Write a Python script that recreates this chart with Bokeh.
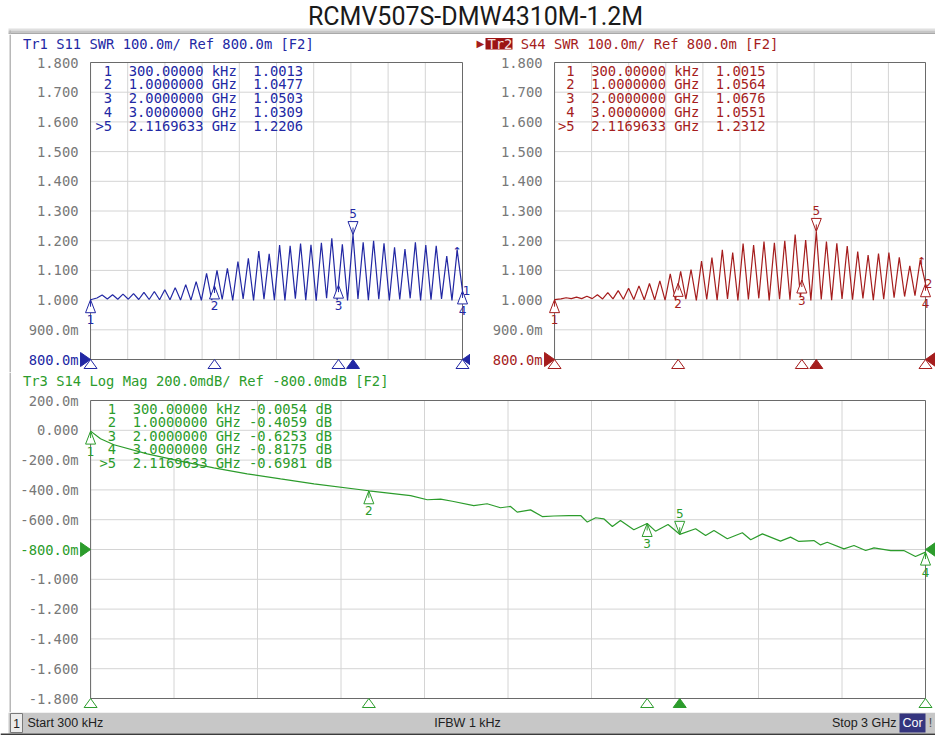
from bokeh.plotting import figure
from bokeh.models import Range1d
from bokeh.layouts import column, row
from bokeh.embed import file_html
from bokeh.resources import INLINE
from bokeh.core.properties import value

# ---------------- data ----------------
TITLE = "RCMV507S-DMW4310M-1.2M"
HDR1 = "Tr1 S11 SWR 100.0m/ Ref 800.0m [F2]"
HDR2_TAG = "Tr2"
HDR2 = "S44 SWR 100.0m/ Ref 800.0m [F2]"
HDR3 = "Tr3 S14 Log Mag 200.0mdB/ Ref -800.0mdB [F2]"
STATUS_L = "Start 300 kHz"
STATUS_C = "IFBW 1 kHz"
STATUS_R = "Stop 3 GHz"

f_start = 0.0003
f_stop = 3.0
grid_f = [0.0003, 0.3, 0.6, 0.9, 1.2, 1.5, 1.8, 2.1, 2.4, 2.7, 3.0]

swr_ticks = [0.8, 0.9, 1.0, 1.1, 1.2, 1.3, 1.4, 1.5, 1.6, 1.7, 1.8]
swr_labels = ["800.0m", "900.0m", "1.000", "1.100", "1.200", "1.300",
              "1.400", "1.500", "1.600", "1.700", "1.800"]
swr_ref = 0.8
lm_ticks = [-1.8, -1.6, -1.4, -1.2, -1.0, -0.8, -0.6, -0.4, -0.2, 0.0, 0.2]
lm_labels = ["-1.800", "-1.600", "-1.400", "-1.200", "-1.000", "-800.0m",
             "-600.0m", "-400.0m", "-200.0m", "0.000", "200.0m"]
lm_ref = -0.8

mk_id = ["1", "2", "3", "4", ">5"]
mk_f = [0.0003, 1.0, 2.0, 3.0, 2.1169633]
mk_s11 = [1.0013, 1.0477, 1.0503, 1.0309, 1.2206]
mk_s44 = [1.0015, 1.0564, 1.0676, 1.0551, 1.2312]
mk_s14 = [-0.0054, -0.4059, -0.6253, -0.8175, -0.6981]
active = 4

# SWR traces: vertices (start, valley, peak, valley, peak, ..., stop)
swr_f = [0.0003, 0.052, 0.094, 0.136, 0.178, 0.220, 0.262, 0.305, 0.347, 0.389,
         0.431, 0.473, 0.515, 0.557, 0.599, 0.641, 0.683, 0.726, 0.768, 0.810,
         0.852, 0.894, 0.936, 0.978, 1.020, 1.062, 1.104, 1.147, 1.189, 1.231,
         1.273, 1.315, 1.357, 1.399, 1.441, 1.483, 1.525, 1.568, 1.610, 1.652,
         1.694, 1.736, 1.778, 1.820, 1.862, 1.904, 1.946, 1.989, 2.031, 2.073,
         2.117, 2.157, 2.199, 2.241, 2.283, 2.325, 2.367, 2.410, 2.452, 2.494,
         2.536, 2.578, 2.620, 2.662, 2.704, 2.746, 2.788, 2.831, 2.873, 2.915,
         2.957, 3.0]
s11_v = [1.0013, 1.007, 1.017, 1.004, 1.018, 1.003, 1.020, 1.003, 1.022, 1.002,
         1.026, 1.002, 1.029, 1.001, 1.035, 1.001, 1.042, 1.000, 1.052, 1.000,
         1.062, 0.999, 1.090, 1.000, 1.100, 1.002, 1.107, 0.999, 1.130, 1.004,
         1.141, 0.999, 1.165, 1.003, 1.156, 1.000, 1.185, 0.999, 1.183, 1.005,
         1.190, 1.000, 1.186, 0.998, 1.193, 1.006, 1.208, 1.000, 1.188, 0.999,
         1.2206, 1.004, 1.195, 1.000, 1.200, 1.003, 1.191, 0.999, 1.178, 1.002,
         1.172, 1.006, 1.195, 0.999, 1.185, 1.001, 1.183, 1.004, 1.148, 0.999,
         1.168, 1.0309]
s44_v = [1.0015, 1.004, 1.008, 1.005, 1.010, 1.005, 1.013, 1.005, 1.018, 1.004,
         1.025, 1.004, 1.032, 1.003, 1.040, 1.002, 1.048, 1.001, 1.056, 1.001,
         1.065, 1.000, 1.088, 1.000, 1.097, 1.003, 1.103, 0.999, 1.131, 1.002,
         1.143, 1.000, 1.169, 1.004, 1.160, 0.999, 1.190, 1.002, 1.185, 1.006,
         1.197, 0.999, 1.193, 1.003, 1.200, 1.001, 1.221, 1.010, 1.202, 0.999,
         1.2312, 1.002, 1.197, 1.000, 1.191, 1.004, 1.182, 1.001, 1.163, 1.006,
         1.152, 1.000, 1.157, 1.003, 1.160, 1.008, 1.144, 1.012, 1.115, 1.015,
         1.135, 1.0551]

s14_f = [0.0003, 0.036, 0.084, 0.204, 0.323, 0.443, 0.563, 0.683, 0.803, 1.0,
         1.15, 1.21, 1.258, 1.30, 1.377, 1.425, 1.473, 1.509, 1.533, 1.581,
         1.623, 1.665, 1.719, 1.761, 1.785, 1.815, 1.844, 1.875, 1.904, 1.952,
         2.0, 2.030, 2.075, 2.117, 2.174, 2.210, 2.240, 2.288, 2.342, 2.372,
         2.414, 2.479, 2.515, 2.545, 2.599, 2.623, 2.647, 2.707, 2.743, 2.785,
         2.815, 2.875, 2.922, 2.964, 3.0]
s14_v = [-0.0054, -0.057, -0.097, -0.158, -0.207, -0.252, -0.292, -0.326, -0.359, -0.4059,
         -0.438, -0.466, -0.462, -0.476, -0.505, -0.493, -0.520, -0.511, -0.549, -0.534,
         -0.579, -0.575, -0.572, -0.572, -0.616, -0.587, -0.594, -0.646, -0.605, -0.668,
         -0.6253, -0.677, -0.632, -0.6981, -0.661, -0.706, -0.672, -0.728, -0.688, -0.735,
         -0.695, -0.744, -0.717, -0.746, -0.740, -0.769, -0.751, -0.796, -0.773, -0.807,
         -0.789, -0.807, -0.807, -0.847, -0.8175]

# ---------------- style ----------------
C1 = "#2228a4"
C2 = "#a51d1d"
C3 = "#2c9c2c"
GRID_C = "#d4d4d4"
FRAME_C = "#6a6a6a"
TICK_C = "#787878"
MONO = "DejaVu Sans Mono"
FS = "13.8px"
NUMF = "DejaVu Sans"
NB = "\u00a0"


def nb(s):
    return s.replace(" ", NB)


def panel(px0, ppx, py0, v0, ppy, fl, fr, ft, fb):
    return dict(px0=px0, ppx=ppx, py0=py0, v0=v0, ppy=ppy, fl=fl, fr=fr, ft=ft, fb=fb)


def X(P, px):
    return (px - P["px0"]) / P["ppx"]


def Y(P, py):
    return P["v0"] + (P["py0"] - py) / P["ppy"]


# pixel geometry of each panel (grid origin / scale / figure edges)
P1 = panel(90, 124.0, 62, 1.8, 297.0, 0, 470, 34, 372)
P2 = panel(554, 371.0 / 3, 62, 1.8, 297.0, 470, 935, 34, 372)
P3 = panel(90, 835.0 / 3, 400, 0.2, 149.0, 0, 935, 372, 712)


def make_fig(P):
    p = figure(width=P["fr"] - P["fl"], height=P["fb"] - P["ft"],
               x_range=Range1d(X(P, P["fl"]), X(P, P["fr"])),
               y_range=Range1d(Y(P, P["fb"]), Y(P, P["ft"])),
               x_axis_location=None, y_axis_location=None,
               toolbar_location=None, output_backend="svg",
               min_border=0, outline_line_color=None,
               background_fill_color="white", border_fill_color="white")
    p.grid.visible = False
    return p


def txt(p, P, px, py, text, color, size=FS, font=MONO, align="left"):
    p.text(x=[X(P, px)], y=[Y(P, py)], text=[nb(text)], text_color=color,
           text_font=value(font), text_font_size=size, text_align=align,
           text_baseline="middle")


def draw_panel(p, P, ticks, ref, labels, label_px, trace_f, trace_v, mvals, color,
               col0_px, rows_y, fmt):
    lo, hi = ticks[0], ticks[-1]
    n = len(grid_f)
    p.segment(x0=grid_f, y0=[lo] * n, x1=grid_f, y1=[hi] * n, line_color=GRID_C, line_width=1)
    m = len(ticks)
    p.segment(x0=[f_start] * m, y0=ticks, x1=[f_stop] * m, y1=ticks, line_color=GRID_C, line_width=1)
    p.quad(left=[f_start], right=[f_stop], bottom=[lo], top=[hi],
           fill_color=None, line_color=FRAME_C, line_width=1)

    # y tick labels (reference level drawn in trace colour)
    p.text(x=[X(P, label_px)] * m, y=ticks, text=labels,
           text_color=[color if t == ref else TICK_C for t in ticks],
           text_font=value(MONO), text_font_size=FS, text_align="right",
           text_baseline="middle")

    # trace
    p.line(trace_f, trace_v, line_color=color, line_width=1.2)

    dxm = 5.0 / P["ppx"]
    hm = 13.0 / P["ppy"]
    xs, ys, sx0, sy0, sy1, tx, ty, tt = [], [], [], [], [], [], [], []
    for i, (f, v) in enumerate(zip(mk_f, mvals)):
        if i == active:
            base = v + hm
            sy1.append(v + 7.0 / P["ppy"])
            ty.append(v + 21.0 / P["ppy"])
        else:
            base = v - hm
            sy1.append(v - 7.0 / P["ppy"])
            ty.append(v - 20.0 / P["ppy"])
        xs.append([f, f - dxm, f + dxm])
        ys.append([v, base, base])
        sx0.append(f)
        sy0.append(v)
        tx.append(f)
        tt.append(mk_id[i].replace(">", ""))
    p.patches(xs, ys, fill_color="white", line_color=color, line_width=1)
    p.segment(x0=sx0, y0=sy0, x1=sx0, y1=sy1, line_color=color, line_width=1)
    p.text(x=tx, y=ty, text=tt, text_color=color, text_font=value(NUMF),
           text_font_size="12px", text_align="center", text_baseline="middle")

    # marker indicators below the grid
    dxs = 6.5 / P["ppx"]
    hs = 9.0 / P["ppy"]
    bxs, bys, fill = [], [], []
    for i, f in enumerate(mk_f):
        bxs.append([f, f - dxs, f + dxs])
        bys.append([lo, lo - hs, lo - hs])
        fill.append(color if i == active else "white")
    p.patches(bxs, bys, fill_color=fill, line_color=color, line_width=1)

    # reference level indicators
    rw = 10.0 / P["ppx"]
    rh = 7.0 / P["ppy"]
    p.patches([[f_start, f_start - rw, f_start - rw], [f_stop, f_stop + rw, f_stop + rw]],
              [[ref, ref + rh, ref - rh], [ref, ref + rh, ref - rh]],
              fill_color=color, line_color=color)

    # marker table
    for i in range(len(mk_f)):
        txt(p, P, col0_px, rows_y[i], fmt(i, mvals[i]), color)


def freq_str(f):
    if f < 0.001:
        return f"{f * 1e6:.5f} kHz"
    return f"{f:.7f} GHz"


def fmt_swr(i, v):
    return f"{mk_id[i]:>2}  {freq_str(mk_f[i])}  {v:.4f}"


def fmt_lm(i, v):
    return f"{mk_id[i]:>2}  {freq_str(mk_f[i])} {v:.4f} dB"


def left_border(p, P):
    p.quad(left=[X(P, 9)], right=[X(P, 10.5)], top=[Y(P, P["ft"])], bottom=[Y(P, P["fb"])],
           fill_color="#b8b8b8", line_color=None)


# ---------------- figures ----------------
p1 = make_fig(P1)
left_border(p1, P1)
draw_panel(p1, P1, swr_ticks, swr_ref, swr_labels, 78, swr_f, s11_v, mk_s11, C1,
           95, [70, 83.75, 97.5, 111.25, 125], fmt_swr)
txt(p1, P1, 22.5, 43.3, HDR1, C1)
txt(p1, P1, 466, 290, "1", C1, size="12px", font=NUMF, align="center")
txt(p1, P1, 456.5, 251, "\u2191", C1, size="11px", font=NUMF, align="center")

p2 = make_fig(P2)
draw_panel(p2, P2, swr_ticks, swr_ref, swr_labels, 542, swr_f, s44_v, mk_s44, C2,
           557.5, [70, 83.75, 97.5, 111.25, 125], fmt_swr)
txt(p2, P2, 476, 43.3, "\u25B6", C2, size="10px", font=NUMF)
p2.quad(left=[X(P2, 485)], right=[X(P2, 512)], top=[Y(P2, 37.5)], bottom=[Y(P2, 49)],
        fill_color="#9c1414", line_color=None)
txt(p2, P2, 487, 43.3, HDR2_TAG, "#f6e0e0")
txt(p2, P2, 487 + 4 * 8.31, 43.3, HDR2, C2)
txt(p2, P2, 928, 283, "2", C2, size="12px", font=NUMF, align="center")
txt(p2, P2, 921, 261, "\u2191", C2, size="11px", font=NUMF, align="center")

p3 = make_fig(P3)
left_border(p3, P3)
draw_panel(p3, P3, lm_ticks, lm_ref, lm_labels, 78, s14_f, s14_v, mk_s14, C3,
           99, [408, 421.6, 435.2, 448.8, 462.4], fmt_lm)
txt(p3, P3, 22.5, 380.5, HDR3, C3)

# header with title and grey bar (pixel coordinates)
hdr = figure(width=935, height=34, x_range=Range1d(0, 935), y_range=Range1d(34, 0),
             x_axis_location=None, y_axis_location=None, toolbar_location=None,
             output_backend="svg", min_border=0, outline_line_color=None)
hdr.grid.visible = False
hdr.quad(left=[8, 8, 8], right=[935, 935, 935], top=[28, 30, 32], bottom=[30, 32, 34],
         fill_color=["#e0e0e0", "#c6c6c6", "#a9a9a9"], line_color=None)
hdr.quad(left=[9], right=[10.5], top=[30], bottom=[34], fill_color="#b8b8b8", line_color=None)
hdr.text(x=[475], y=[15.5], text=[TITLE], text_align="center", text_baseline="middle",
         text_font=value("Roboto"), text_font_size="25px", text_color="#1a1a1a")

# status bar (pixel coordinates)
st = figure(width=935, height=23, x_range=Range1d(0, 935), y_range=Range1d(735, 712),
            x_axis_location=None, y_axis_location=None, toolbar_location=None,
            output_backend="svg", min_border=0, outline_line_color=None)
st.grid.visible = False
st.quad(left=[8], right=[935], top=[712], bottom=[733], fill_color="#c7c7c7", line_color=None)
st.quad(left=[0], right=[935], top=[733], bottom=[735], fill_color="#3c3c3c", line_color=None)
st.quad(left=[10], right=[22], top=[713], bottom=[732], fill_color="#ececec", line_color="#7a7a7a")
st.quad(left=[899], right=[925], top=[713], bottom=[732], fill_color="#35357e", line_color=None)
SFONT = value("Liberation Sans")
st.text(x=[16], y=[722.5], text=["1"], text_align="center", text_baseline="middle",
        text_font=SFONT, text_font_size="12px", text_color="#202020")
st.text(x=[27], y=[722.5], text=[nb(STATUS_L)], text_align="left", text_baseline="middle",
        text_font=SFONT, text_font_size="12.5px", text_color="#202020")
st.text(x=[467], y=[722.5], text=[nb(STATUS_C)], text_align="center", text_baseline="middle",
        text_font=SFONT, text_font_size="12.5px", text_color="#202020")
st.text(x=[896], y=[722.5], text=[nb(STATUS_R)], text_align="right", text_baseline="middle",
        text_font=SFONT, text_font_size="12.5px", text_color="#202020")
st.text(x=[912], y=[722.5], text=["Cor"], text_align="center", text_baseline="middle",
        text_font=SFONT, text_font_size="12.5px", text_color="#ffffff")
st.text(x=[930], y=[722.5], text=["!"], text_align="center", text_baseline="middle",
        text_font=SFONT, text_font_size="12.5px", text_color="#505050")

layout = column(hdr, row(p1, p2), p3, st)

open("out.html", "w").write(file_html(layout, INLINE))
